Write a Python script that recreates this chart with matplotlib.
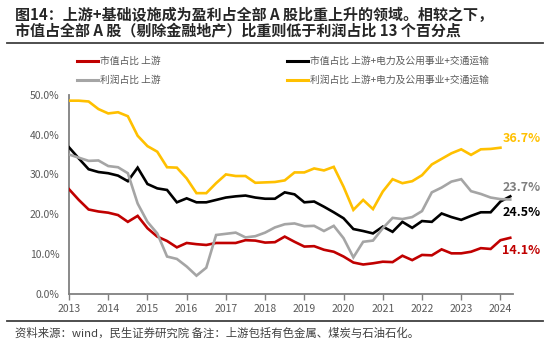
import matplotlib
matplotlib.use("Agg")
import matplotlib.pyplot as plt
import numpy as np
from matplotlib.lines import Line2D

plt.rcParams['font.family'] = ['Noto Sans CJK SC', 'DejaVu Sans']

# Quarterly observations, 2013Q1 onward
start_year = 2013
mv_up = [26.3, 23.6, 21.2, 20.7, 20.4, 19.8, 18.1, 19.6, 16.5, 14.4, 13.3, 11.7,
         12.8, 12.5, 12.3, 12.8, 12.8, 12.8, 13.5, 13.4, 12.9, 13.0, 14.4, 13.1,
         11.9, 12.0, 11.1, 10.6, 9.4, 7.9, 7.4, 7.7, 8.1, 8.0, 9.6, 8.5,
         9.8, 9.7, 11.2, 10.2, 10.2, 10.6, 11.5, 11.3, 13.5, 14.1]
mv_all = [36.8, 34.0, 31.3, 30.6, 30.3, 29.7, 28.3, 31.7, 27.6, 26.5, 26.1, 23.0,
          24.0, 23.0, 23.0, 23.6, 24.2, 24.5, 24.7, 24.2, 23.9, 23.9, 25.5, 25.0,
          23.0, 23.2, 21.9, 20.5, 19.0, 16.3, 15.8, 15.2, 16.9, 15.6, 18.1, 16.6,
          18.3, 18.1, 20.2, 19.3, 18.6, 19.6, 20.5, 20.5, 23.2, 24.5]
pf_up = [35.0, 34.2, 33.4, 33.5, 32.1, 31.8, 30.3, 22.7, 18.1, 15.2, 9.4, 8.8,
         6.9, 4.6, 6.6, 14.8, 15.1, 15.4, 14.2, 14.5, 15.4, 16.7, 17.5, 17.7,
         17.0, 17.1, 15.8, 17.1, 14.0, 9.2, 13.1, 13.4, 16.5, 19.1, 18.8, 19.3,
         20.8, 25.5, 26.7, 28.2, 28.8, 25.8, 25.1, 24.2, 23.8, 23.7]
pf_all = [48.5, 48.5, 48.3, 46.4, 45.3, 45.6, 44.6, 39.7, 37.1, 35.7, 31.8, 31.7,
          29.0, 25.3, 25.3, 27.8, 30.0, 29.6, 29.6, 27.9, 28.0, 28.1, 28.5, 30.5,
          30.5, 31.5, 31.0, 31.9, 26.9, 21.1, 23.6, 21.3, 25.7, 28.8, 27.8, 28.3,
          29.8, 32.5, 33.9, 35.3, 36.3, 34.9, 36.3, 36.4, 36.7]

series_names = ['市值占比 上游', '市值占比 上游+电力及公用事业+交通运输',
                '利润占比 上游', '利润占比 上游+电力及公用事业+交通运输']
year_ticks = list(range(2013, 2025))
end_labels = ['14.1%', '24.5%', '23.7%', '36.7%']

colors = ['#C00000', '#000000', '#A5A5A5', '#FFC000']
series = [mv_up, mv_all, pf_up, pf_all]

W, H = 550, 347
fig = plt.figure(figsize=(W / 100, H / 100), dpi=100)
ax = fig.add_axes([69 / W, 1 - 294 / H, (513 - 69) / W, (294 - 94.7) / H])

order = [2, 3, 1, 0]
for i in order:
    vals = series[i]
    x = start_year + np.arange(len(vals)) / 4
    ax.plot(x, vals, color=colors[i], lw=1.9, solid_joinstyle='miter', zorder=3 + i)

ax.set_xlim(2013, 2024.32)
ax.set_ylim(0, 50)
ax.set_xticks(year_ticks)
ax.set_xticklabels([str(y) for y in year_ticks])
ax.set_yticks(np.arange(0, 51, 10))
ax.set_yticklabels([f'{v:.1f}%' for v in np.arange(0, 51, 10)])
for s in ['top', 'right']:
    ax.spines[s].set_visible(False)
for s in ['left', 'bottom']:
    ax.spines[s].set_color('#808080')
    ax.spines[s].set_linewidth(1.3)
ax.tick_params(axis='y', length=0, labelsize=7.5, labelcolor='#595959', pad=7)
ax.tick_params(axis='x', length=4, width=1, color='#808080', labelsize=7.5,
               labelcolor='#595959', pad=3)

# end labels
lab_pos = [(251, 0), (213, 1), (188, 2), (139, 3)]
for ypix, i in lab_pos:
    yv = (294 - ypix) / ((294 - 94.7) / 50)
    ax.text(2024.05, yv, end_labels[i], color=colors[i] if i != 2 else '#7F7F7F',
            fontsize=9, fontweight='bold', ha='left', va='center', clip_on=False)

# title
fig.text(15 / W, 1 - 15 / H, '图14：上游+基础设施成为盈利占全部 A 股比重上升的领域。相较之下，',
         fontsize=10.8, fontweight='bold', color='#262626', ha='left', va='center')
fig.text(15 / W, 1 - 31.5 / H, '市值占全部 A 股（剔除金融地产）比重则低于利润占比 13 个百分点',
         fontsize=10.8, fontweight='bold', color='#262626', ha='left', va='center')
fig.add_artist(Line2D([7 / W, 543 / W], [1 - 43 / H, 1 - 43 / H], color='#404040', lw=1.3))

# legend
leg = [(77, 61, 0), (287, 61, 1), (77, 80, 2), (287, 80, 3)]
for xp, yp, i in leg:
    fig.add_artist(Line2D([xp / W, (xp + 21) / W], [1 - yp / H, 1 - yp / H],
                          color=colors[i], lw=2.2))
    fig.text((xp + 23) / W, 1 - yp / H, series_names[i], fontsize=7,
             color='#595959', ha='left', va='center')

# source
fig.add_artist(Line2D([7 / W, 543 / W], [1 - 321 / H, 1 - 321 / H], color='#404040', lw=1.3))
fig.text(15 / W, 1 - 333 / H, '资料来源：wind，民生证券研究院 备注：上游包括有色金属、煤炭与石油石化。',
         fontsize=8.2, color='#404040', ha='left', va='center')

fig.savefig('out.png', dpi=100)
